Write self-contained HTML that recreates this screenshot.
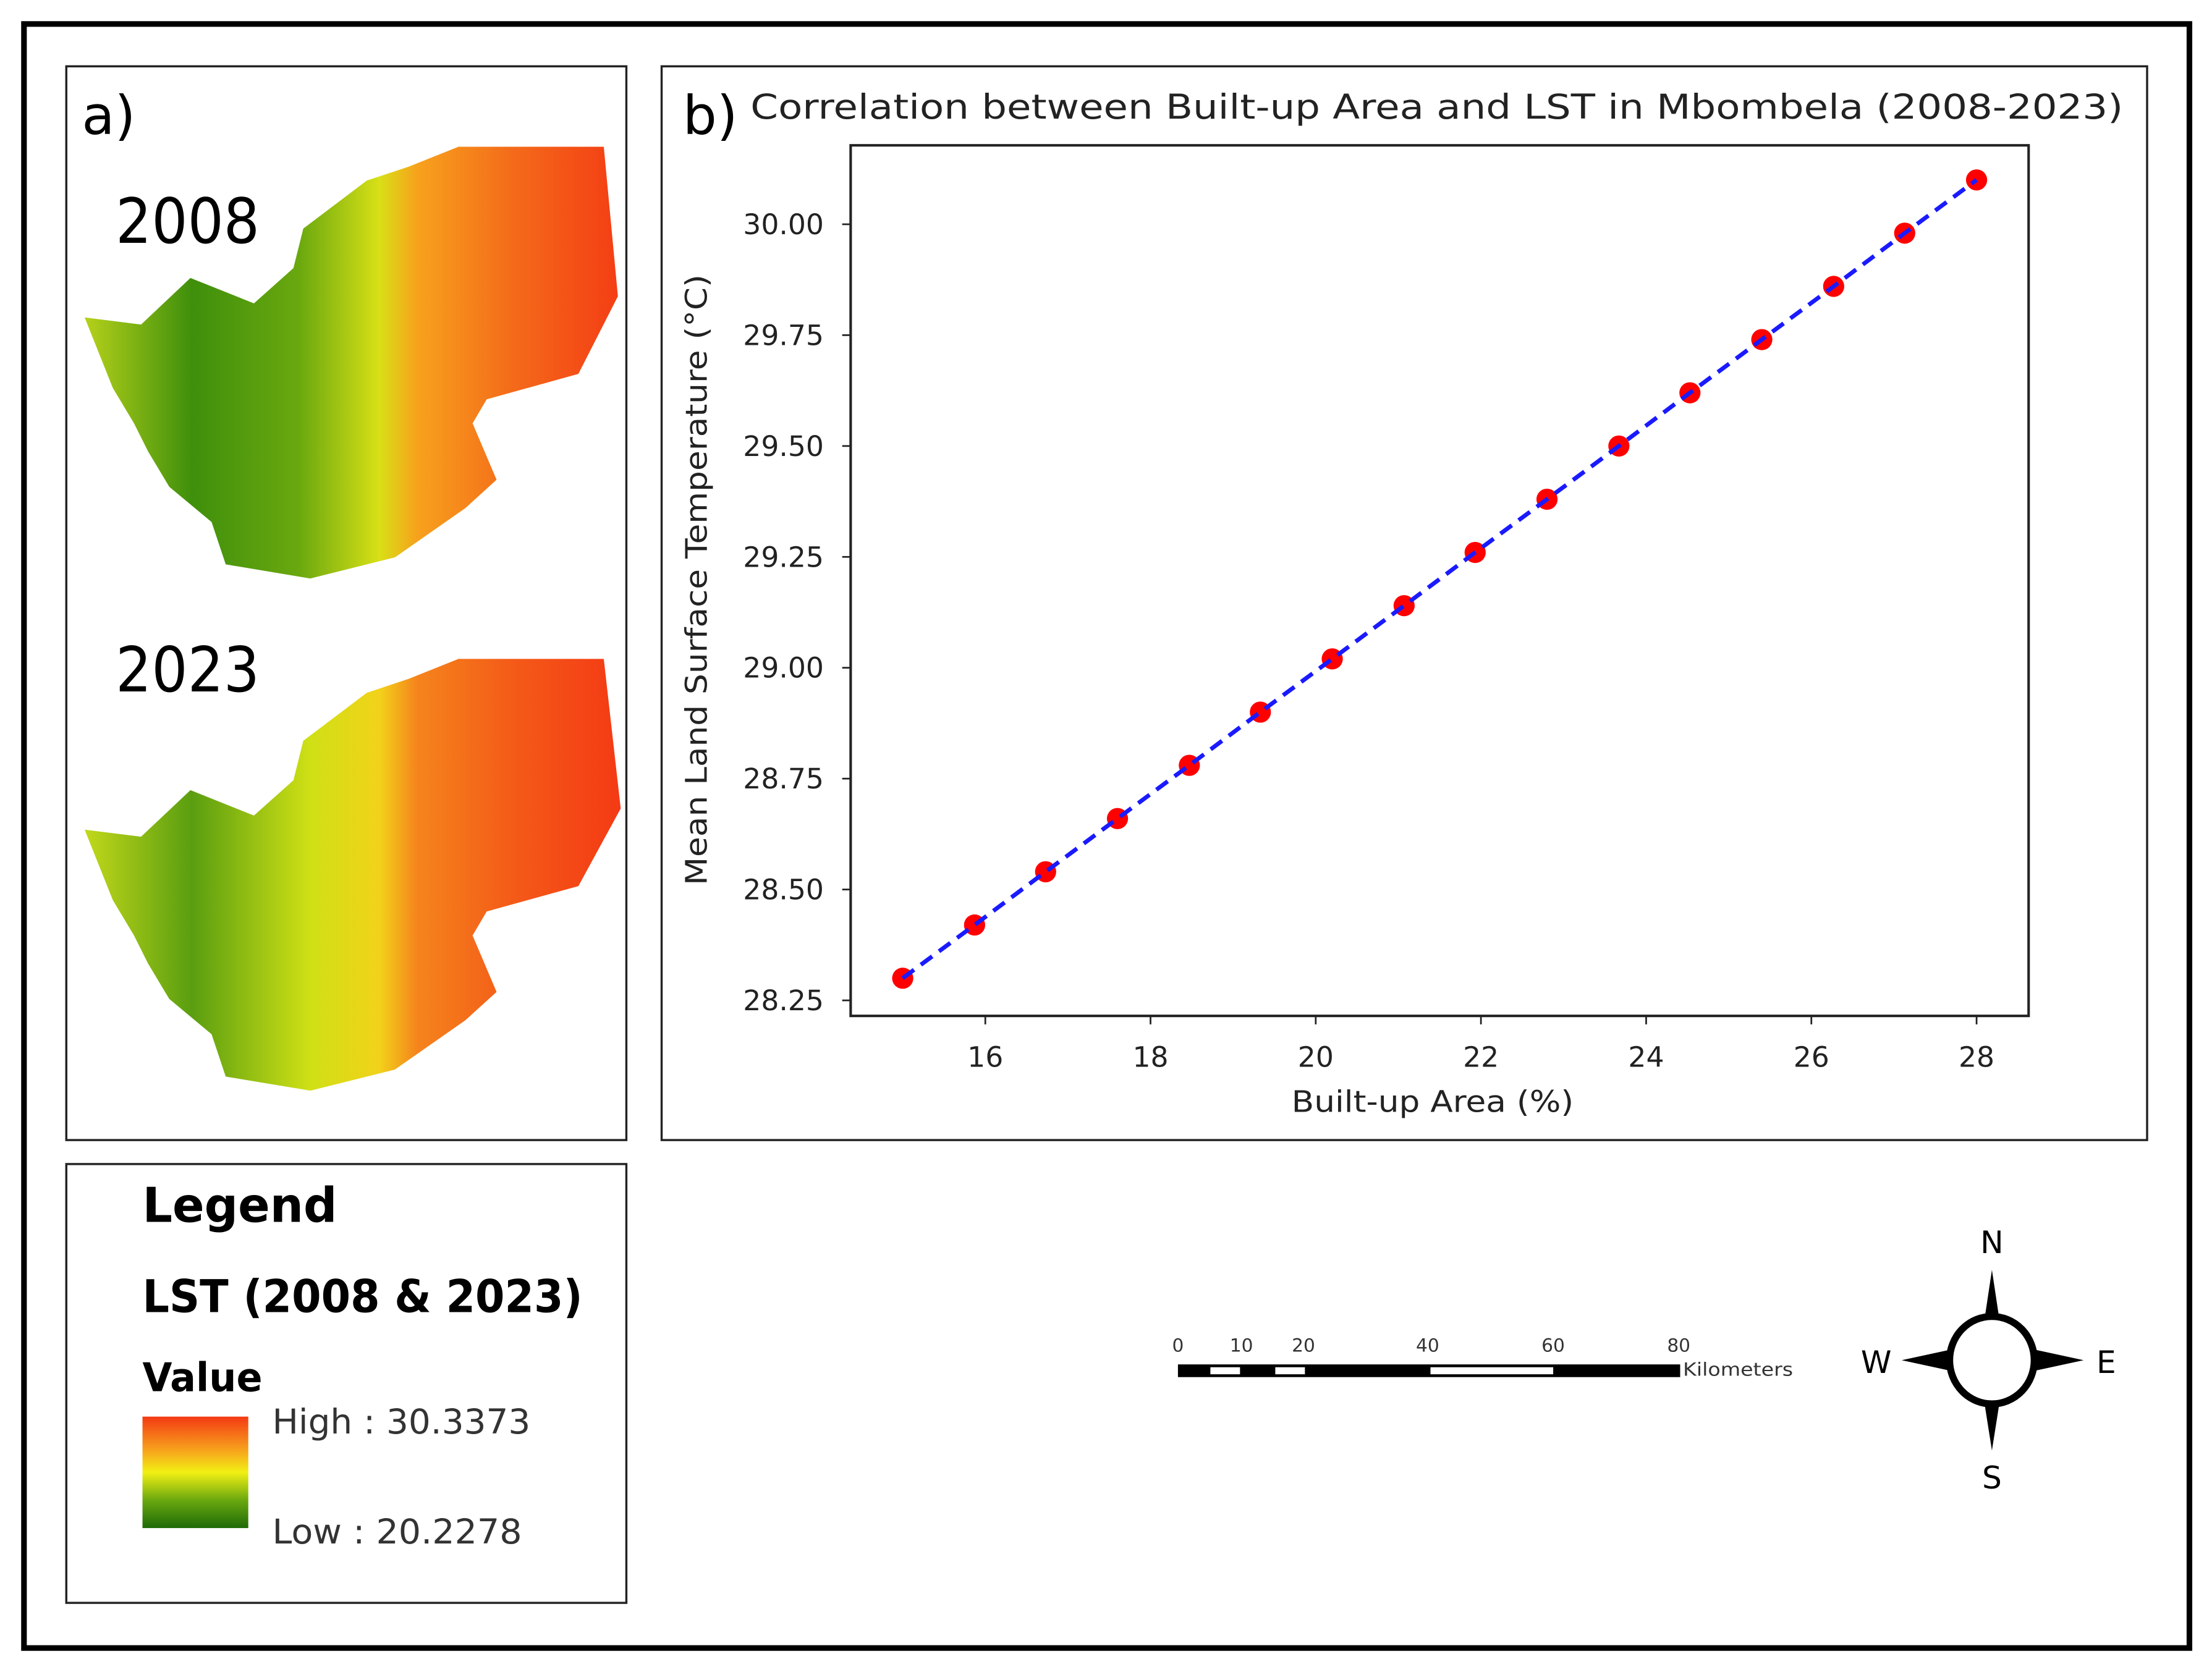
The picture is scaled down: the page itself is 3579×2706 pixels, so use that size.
<!DOCTYPE html>
<html><head><meta charset="utf-8"><style>
html,body{margin:0;padding:0;background:#fff}
svg{display:block}
text{font-family:"DejaVu Sans","Liberation Sans",sans-serif}
</style></head><body>
<svg id="fig" width="3579" height="2706" viewBox="0 0 1568 1185" preserveAspectRatio="none" xmlns="http://www.w3.org/2000/svg">
<defs>
<linearGradient id="mapg" x1="60" y1="0" x2="440" y2="0" gradientUnits="userSpaceOnUse">
<stop offset="0" stop-color="#b5d11a"/><stop offset="0.2" stop-color="#3f8f0c"/><stop offset="0.4" stop-color="#6aa80f"/><stop offset="0.55" stop-color="#d8e016"/><stop offset="0.62" stop-color="#f7a21c"/><stop offset="0.8" stop-color="#f46a1a"/><stop offset="1" stop-color="#f43d14"/>
</linearGradient>
<linearGradient id="mapg2" x1="60" y1="0" x2="440" y2="0" gradientUnits="userSpaceOnUse">
<stop offset="0" stop-color="#c2d81a"/><stop offset="0.2" stop-color="#5a9e10"/><stop offset="0.42" stop-color="#cfe015"/><stop offset="0.55" stop-color="#f2d21a"/><stop offset="0.62" stop-color="#f5841c"/><stop offset="0.8" stop-color="#f45a18"/><stop offset="1" stop-color="#f43a14"/>
</linearGradient>
<linearGradient id="legg" x1="0" y1="0" x2="0" y2="1">
<stop offset="0" stop-color="#f43a14"/><stop offset="0.3" stop-color="#f7a21c"/><stop offset="0.5" stop-color="#f2f014"/><stop offset="0.75" stop-color="#6aa80f"/><stop offset="1" stop-color="#1e6b08"/>
</linearGradient>
</defs>
<rect x="17" y="17" width="1535" height="1151" fill="none" stroke="#000" stroke-width="4"/>
<g>
<rect x="47" y="47" width="397" height="761" fill="#fff" stroke="#222" stroke-width="1.5"/>
<text x="58" y="95" font-size="38">a)</text>
<text x="82" y="172" font-size="44" textLength="102" lengthAdjust="spacingAndGlyphs">2008</text>
<polygon fill="url(#mapg)" points="60,225 100,230 135,197 180,215 208,190 215,162 260,128 290,118 325,104 428,104 438,210 410,265 345,283 335,300 352,340 330,360 280,395 220,410 160,400 150,370 120,345 105,320 95,300 80,275"/>
<text x="82" y="490" font-size="44" textLength="102" lengthAdjust="spacingAndGlyphs">2023</text>
<polygon fill="url(#mapg2)" points="60,588 100,593 135,560 180,578 208,553 215,525 260,491 290,481 325,467 428,467 440,573 410,628 345,646 335,663 352,703 330,723 280,758 220,773 160,763 150,733 120,708 105,683 95,663 80,638"/>
</g>
<g>
<rect x="47" y="825" width="397" height="311" fill="#fff" stroke="#222" stroke-width="1.5"/>
<text x="101" y="866" font-size="34" font-weight="bold" textLength="138" lengthAdjust="spacingAndGlyphs">Legend</text>
<text x="101" y="930" font-size="32" font-weight="bold" textLength="312" lengthAdjust="spacingAndGlyphs">LST (2008 &amp; 2023)</text>
<text x="101" y="986" font-size="28" font-weight="bold" textLength="85" lengthAdjust="spacingAndGlyphs">Value</text>
<rect x="101" y="1004" width="75" height="79" fill="url(#legg)"/>
<text x="193" y="1016" font-size="24" fill="#333" textLength="183" lengthAdjust="spacingAndGlyphs">High : 30.3373</text>
<text x="193" y="1094" font-size="24" fill="#333" textLength="177" lengthAdjust="spacingAndGlyphs">Low : 20.2278</text>
</g>
<g>
<rect x="469" y="47" width="1053" height="761" fill="#fff" stroke="#222" stroke-width="1.5"/>
<text x="484" y="95" font-size="38">b)</text>
<text x="532" y="84" font-size="24" fill="#222" textLength="973" lengthAdjust="spacingAndGlyphs">Correlation between Built-up Area and LST in Mbombela (2008-2023)</text>
<g id="chart"></g>
</g>
<g>
<rect x="835" y="967" width="356" height="9" fill="#000"/>
<rect x="858" y="969" width="21" height="5" fill="#fff"/>
<rect x="904" y="969" width="21" height="5" fill="#fff"/>
<rect x="1014" y="969" width="87" height="5" fill="#fff"/>
<g font-size="13" fill="#333" text-anchor="middle">
<text x="835" y="958">0</text><text x="880" y="958">10</text><text x="924" y="958">20</text><text x="1012" y="958">40</text><text x="1101" y="958">60</text><text x="1190" y="958">80</text>
</g>
<text x="1193" y="975" font-size="13" fill="#333" textLength="78" lengthAdjust="spacingAndGlyphs">Kilometers</text>
</g>
<g>
<polygon points="1412,900 1406,940 1418,940" fill="#000"/>
<polygon points="1412,1028 1406,990 1418,990" fill="#000"/>
<polygon points="1348,964 1385,956 1385,972" fill="#000"/>
<polygon points="1477,964 1440,956 1440,972" fill="#000"/>
<ellipse cx="1412" cy="964" rx="30" ry="31" fill="#fff" stroke="#000" stroke-width="5"/>
<text x="1412" y="888" font-size="22" text-anchor="middle">N</text>
<text x="1330" y="973" font-size="22" text-anchor="middle">W</text>
<text x="1493" y="973" font-size="22" text-anchor="middle">E</text>
<text x="1412" y="1055" font-size="22" text-anchor="middle">S</text>
</g>
</svg>
<script>
const xValues=[15,15.87,16.73,17.6,18.47,19.33,20.2,21.07,21.93,22.8,23.67,24.53,25.4,26.27,27.13,28];
const yValues=[28.30,28.42,28.54,28.66,28.78,28.90,29.02,29.14,29.26,29.38,29.50,29.62,29.74,29.86,29.98,30.10];
const xTicks=[16,18,20,22,24,26,28];
const yTicks=[28.25,28.50,28.75,29.00,29.25,29.50,29.75,30.00];
const NS='http://www.w3.org/2000/svg';
const L=603,R=1438,T=103,B=720;
const xMin=14.37,xMax=28.63,yMin=28.215,yMax=30.178;
function sx(v){return L+(v-xMin)/(xMax-xMin)*(R-L);}
function sy(v){return B-(v-yMin)/(yMax-yMin)*(B-T);}
const g=document.getElementById('chart');
function mk(tag,attrs){const e=document.createElementNS(NS,tag);for(const k in attrs)e.setAttribute(k,attrs[k]);g.appendChild(e);return e;}
let e=mk('rect',{x:L,y:T,width:R-L,height:B-T,fill:'none',stroke:'#222','stroke-width':1.8});


xTicks.forEach(t=>{
  let l=mk('line',{x1:sx(t),x2:sx(t),y1:B,y2:B+6,stroke:'#222','stroke-width':1.2});
  
  
  let tx=mk('text',{x:sx(t),y:B+36,'font-size':20,'text-anchor':'middle',fill:'#222'});
  tx.textContent=String(t);
  
  
});
yTicks.forEach(t=>{
  let l=mk('line',{x1:L-6,x2:L,y1:sy(t),y2:sy(t),stroke:'#222','stroke-width':1.2});
  
  
  let tx=mk('text',{x:L-19,y:sy(t)+7,'font-size':20,'text-anchor':'end',fill:'#222'});
  tx.textContent=t.toFixed(2);
  
  
});
let xt=mk('text',{x:(L+R)/2-5,y:788,'font-size':21,'text-anchor':'middle',fill:'#222',textLength:200,lengthAdjust:'spacingAndGlyphs'});
xt.textContent='Built-up Area (%)';


let yt=mk('text',{x:0,y:0,'font-size':21,'text-anchor':'middle',fill:'#222',textLength:433,lengthAdjust:'spacingAndGlyphs',transform:'translate(501,411) rotate(-90)'});
yt.textContent='Mean Land Surface Temperature (°C)';


xValues.forEach((x,i)=>{
  let c=mk('circle',{cx:sx(x),cy:sy(yValues[i]),r:7.5,fill:'#f00'});
  
  
});
let pl=mk('polyline',{points:xValues.map((x,i)=>sx(x)+','+sy(yValues[i])).join(' '),fill:'none',stroke:'#1a1aff','stroke-width':3,'stroke-dasharray':'10,6'});


</script>
</body></html>
